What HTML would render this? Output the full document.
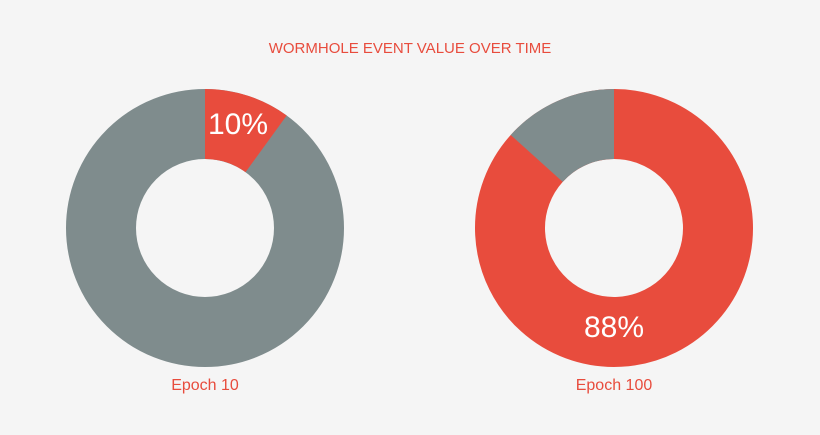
<!DOCTYPE html>
<html><head><meta charset="utf-8"><style>
html,body{margin:0;padding:0;background:#f5f5f5;}
svg{display:block;}
text{font-family:"Liberation Sans",sans-serif;}
</style></head><body>
<svg width="820" height="435" viewBox="0 0 820 435">
<rect width="820" height="435" fill="#f5f5f5"/>
<text x="410" y="53" text-anchor="middle" fill="#e84c3d" font-size="15" font-weight="300">WORMHOLE EVENT VALUE OVER TIME</text>
<g transform="translate(205,228) rotate(-90)">
<circle r="104" fill="none" stroke="#7f8c8d" stroke-width="70"/>
<circle r="104" fill="none" stroke="#e84c3d" stroke-width="70" stroke-dasharray="65.3 700"/>
</g>
<text x="238" y="134" text-anchor="middle" fill="#fff" font-size="30">10%</text>
<text x="205" y="390" text-anchor="middle" fill="#e84c3d" font-size="16">Epoch 10</text>
<g transform="translate(614,228) rotate(-138)">
<circle r="104" fill="none" stroke="#e84c3d" stroke-width="70"/>
<circle r="104" fill="none" stroke="#7f8c8d" stroke-width="70" stroke-dasharray="87.1 700"/>
</g>
<text x="614" y="337" text-anchor="middle" fill="#fff" font-size="30">88%</text>
<text x="614" y="390" text-anchor="middle" fill="#e84c3d" font-size="16">Epoch 100</text>
</svg>
</body></html>
